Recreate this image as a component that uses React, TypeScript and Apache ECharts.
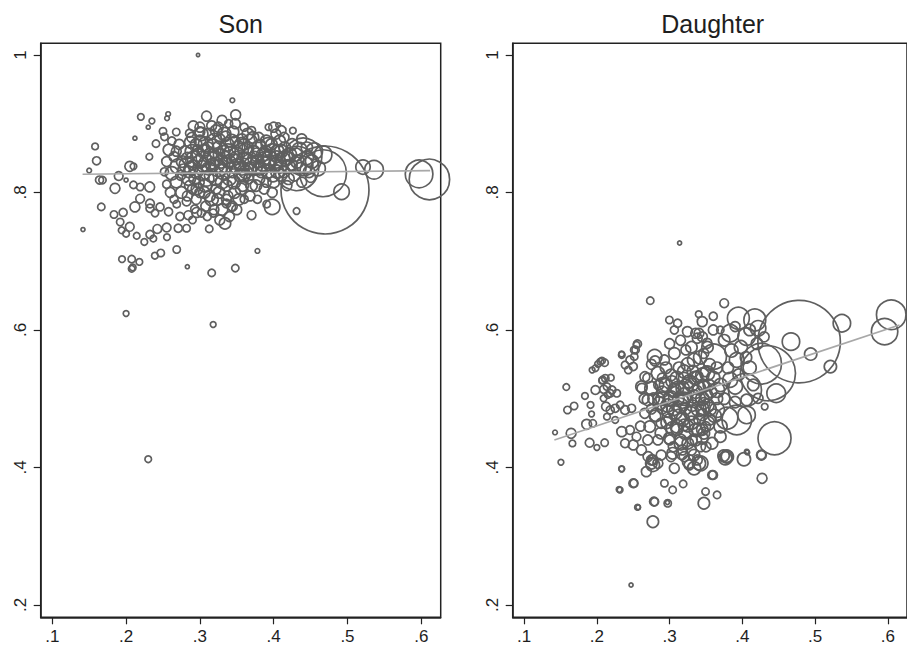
import React, { useEffect, useRef } from "react";
import * as echarts from "echarts";

// [share, outcome, weight]
const sonPoints: number[][] = [
  [0.2975, 1.0, 1], [0.344, 0.934, 2], [0.22, 0.91, 4], [0.235, 0.904, 3], [0.23, 0.895, 1.5],
  [0.257, 0.914, 2], [0.2555, 0.908, 2], [0.309, 0.911, 9], [0.3485, 0.913, 9], [0.348, 0.9, 9],
  [0.406, 0.898, 2], [0.291, 0.897, 9], [0.268, 0.888, 5], [0.25, 0.889, 5], [0.252, 0.881, 5],
  [0.212, 0.879, 1.5], [0.2405, 0.871, 5], [0.2315, 0.852, 4], [0.205, 0.838, 9], [0.21, 0.838, 4],
  [0.19, 0.824, 7], [0.164, 0.818, 6], [0.168, 0.818, 5], [0.185, 0.806, 9], [0.2, 0.818, 1.5],
  [0.21, 0.811, 5], [0.219, 0.808, 5], [0.232, 0.808, 9], [0.219, 0.791, 7], [0.212, 0.779, 9],
  [0.196, 0.771, 6], [0.1836, 0.768, 5], [0.192, 0.757, 5], [0.194, 0.745, 4], [0.2, 0.74, 4],
  [0.205, 0.75, 7], [0.2144, 0.737, 4], [0.2247, 0.728, 4], [0.2324, 0.739, 6], [0.2369, 0.733, 4],
  [0.2423, 0.747, 7], [0.255, 0.749, 7], [0.2554, 0.735, 4], [0.2707, 0.748, 6], [0.282, 0.748, 5],
  [0.273, 0.765, 6], [0.2843, 0.767, 7], [0.2957, 0.771, 9], [0.3127, 0.747, 5], [0.2324, 0.784, 7],
  [0.2324, 0.777, 6], [0.2392, 0.77, 5], [0.246, 0.779, 6], [0.2576, 0.772, 6], [0.2686, 0.783, 5],
  [0.282, 0.787, 7], [0.318, 0.77, 6], [0.327, 0.76, 9], [0.334, 0.755, 12], [0.336, 0.784, 7],
  [0.343, 0.779, 6], [0.37, 0.767, 7], [0.3905, 0.783, 5], [0.431, 0.773, 4], [0.398, 0.779, 22],
  [0.1416, 0.746, 1.5], [0.1664, 0.779, 5], [0.158, 0.867, 4], [0.16, 0.846, 6], [0.15, 0.832, 2],
  [0.1945, 0.703, 4], [0.2076, 0.703, 5], [0.218, 0.699, 4], [0.209, 0.691, 4], [0.2076, 0.689, 4],
  [0.239, 0.708, 4], [0.247, 0.712, 5], [0.2686, 0.717, 5], [0.316, 0.683, 5], [0.348, 0.69, 5],
  [0.378, 0.715, 2], [0.283, 0.692, 1.5], [0.2, 0.624, 3], [0.318, 0.608, 3], [0.23, 0.412, 4],
  // large units
  [0.4695, 0.8036, 711], [0.431, 0.835, 180], [0.467, 0.828, 200], [0.44, 0.852, 128],
  [0.467, 0.855, 28], [0.492, 0.801, 22], [0.521, 0.837, 19], [0.536, 0.833, 32],
  [0.597, 0.827, 70], [0.611, 0.819, 150],
  // dense cluster
  [0.255, 0.845, 9], [0.258, 0.862, 12], [0.262, 0.828, 16], [0.265, 0.852, 9], [0.268, 0.815, 12],
  [0.27, 0.838, 20], [0.252, 0.83, 6], [0.26, 0.8, 9], [0.265, 0.79, 6], [0.255, 0.812, 6],
  [0.272, 0.87, 9], [0.262, 0.875, 6], [0.275, 0.8, 12], [0.274, 0.825, 9],
  [0.28, 0.858, 16], [0.282, 0.84, 20], [0.285, 0.82, 16], [0.287, 0.873, 12], [0.29, 0.805, 9],
  [0.292, 0.848, 25], [0.295, 0.83, 16], [0.297, 0.862, 9], [0.283, 0.795, 9], [0.289, 0.88, 9],
  [0.298, 0.815, 12], [0.3, 0.845, 16], [0.278, 0.833, 12], [0.295, 0.79, 9], [0.3, 0.875, 12],
  [0.293, 0.776, 6], [0.286, 0.886, 6],
  [0.303, 0.828, 20], [0.305, 0.86, 16], [0.307, 0.81, 16], [0.31, 0.842, 25], [0.312, 0.885, 12],
  [0.313, 0.795, 12], [0.315, 0.825, 16], [0.318, 0.868, 16], [0.32, 0.85, 20], [0.322, 0.805, 9],
  [0.325, 0.835, 25], [0.327, 0.878, 9], [0.33, 0.815, 16], [0.332, 0.86, 12], [0.308, 0.78, 9],
  [0.316, 0.897, 9], [0.324, 0.79, 12], [0.329, 0.845, 16], [0.302, 0.77, 6], [0.319, 0.775, 9],
  [0.335, 0.84, 20], [0.337, 0.87, 16], [0.34, 0.82, 16], [0.342, 0.855, 25], [0.345, 0.888, 12],
  [0.347, 0.8, 12], [0.35, 0.838, 20], [0.352, 0.865, 16], [0.355, 0.825, 16], [0.357, 0.878, 9],
  [0.358, 0.81, 12], [0.338, 0.795, 9], [0.344, 0.78, 9], [0.353, 0.79, 12], [0.36, 0.848, 20],
  [0.348, 0.875, 9], [0.339, 0.9, 6],
  [0.362, 0.83, 16], [0.365, 0.865, 12], [0.367, 0.845, 20], [0.37, 0.81, 12], [0.372, 0.88, 12],
  [0.375, 0.835, 16], [0.377, 0.855, 16], [0.38, 0.82, 12], [0.382, 0.87, 9], [0.385, 0.842, 20],
  [0.387, 0.805, 9], [0.389, 0.86, 12], [0.368, 0.795, 9], [0.378, 0.79, 6], [0.37, 0.89, 6],
  [0.392, 0.83, 16], [0.395, 0.85, 20], [0.397, 0.87, 12], [0.4, 0.815, 12], [0.402, 0.84, 16],
  [0.405, 0.86, 16], [0.408, 0.875, 12], [0.41, 0.825, 12], [0.412, 0.848, 20], [0.415, 0.865, 12],
  [0.418, 0.81, 9], [0.42, 0.838, 16], [0.403, 0.885, 9], [0.398, 0.8, 9], [0.414, 0.88, 9],
  [0.393, 0.895, 4],
  [0.422, 0.855, 16], [0.425, 0.87, 12], [0.428, 0.825, 12], [0.432, 0.845, 16], [0.435, 0.862, 20],
  [0.438, 0.815, 9], [0.442, 0.84, 25], [0.445, 0.85, 16], [0.448, 0.83, 12], [0.452, 0.845, 16],
  [0.455, 0.86, 25], [0.46, 0.835, 20], [0.438, 0.878, 9], [0.426, 0.89, 4],
  [0.3, 0.8, 9], [0.31, 0.765, 6], [0.29, 0.76, 5], [0.34, 0.765, 9], [0.36, 0.79, 6],
  [0.35, 0.775, 9], [0.33, 0.775, 12],
  [0.283, 0.85, 12], [0.288, 0.835, 16], [0.293, 0.82, 12], [0.298, 0.855, 16], [0.304, 0.838, 12],
  [0.309, 0.82, 20], [0.311, 0.865, 12], [0.317, 0.84, 16], [0.321, 0.82, 16], [0.326, 0.855, 12],
  [0.331, 0.83, 20], [0.336, 0.81, 12], [0.339, 0.845, 16], [0.344, 0.83, 12], [0.349, 0.85, 16],
  [0.354, 0.84, 12], [0.359, 0.825, 16], [0.363, 0.85, 12], [0.368, 0.835, 16], [0.373, 0.86, 12],
  [0.378, 0.845, 16], [0.383, 0.83, 12], [0.388, 0.85, 16], [0.394, 0.84, 12], [0.399, 0.825, 16],
  [0.404, 0.852, 12], [0.409, 0.838, 16], [0.414, 0.83, 12], [0.419, 0.85, 16], [0.424, 0.84, 12],
  [0.43, 0.855, 16], [0.436, 0.835, 12], [0.306, 0.8, 12], [0.316, 0.79, 16], [0.326, 0.8, 12],
  [0.336, 0.79, 9], [0.346, 0.815, 16], [0.356, 0.805, 12], [0.366, 0.82, 9], [0.376, 0.81, 12],
  [0.296, 0.805, 12], [0.286, 0.81, 9], [0.276, 0.845, 12], [0.268, 0.86, 9], [0.3, 0.888, 9],
  [0.322, 0.89, 12], [0.335, 0.882, 9], [0.36, 0.87, 12], [0.38, 0.88, 9], [0.39, 0.875, 12],
  [0.41, 0.89, 9], [0.33, 0.905, 9], [0.36, 0.895, 6], [0.39, 0.815, 9], [0.42, 0.82, 12],
  [0.445, 0.865, 12], [0.45, 0.822, 9],
  [0.302, 0.885, 16], [0.308, 0.87, 20], [0.314, 0.855, 16], [0.32, 0.875, 20], [0.326, 0.865, 16],
  [0.333, 0.885, 16], [0.338, 0.86, 20], [0.343, 0.875, 16], [0.35, 0.855, 20], [0.356, 0.87, 16],
  [0.362, 0.86, 20], [0.368, 0.875, 16], [0.374, 0.85, 16], [0.38, 0.865, 20], [0.386, 0.855, 16],
  [0.392, 0.87, 16], [0.398, 0.86, 20], [0.404, 0.845, 16], [0.41, 0.86, 16], [0.416, 0.85, 20],
  [0.305, 0.85, 20], [0.312, 0.835, 16], [0.323, 0.84, 20], [0.334, 0.85, 16], [0.346, 0.845, 20],
  [0.357, 0.835, 16], [0.37, 0.84, 20], [0.381, 0.835, 16], [0.393, 0.845, 16], [0.405, 0.83, 16],
  [0.295, 0.87, 12], [0.289, 0.86, 16], [0.3, 0.895, 9], [0.325, 0.895, 9], [0.365, 0.885, 12],
  [0.4, 0.895, 9], [0.285, 0.83, 12], [0.29, 0.84, 9],
];

const daughterPoints: number[][] = [
  [0.3137, 0.7265, 1.5], [0.247, 0.229, 1.5], [0.2734, 0.6426, 5], [0.375, 0.639, 7], [0.34, 0.623, 4],
  [0.277, 0.321, 12], [0.2568, 0.342, 2], [0.2794, 0.35, 6], [0.297, 0.349, 1.5], [0.2306, 0.368, 3],
  [0.251, 0.377, 6], [0.234, 0.398, 3], [0.1506, 0.4076, 3], [0.1425, 0.451, 2], [0.158, 0.517, 4],
  [0.1596, 0.4836, 5], [0.1687, 0.4894, 5], [0.1646, 0.4497, 9], [0.1664, 0.435, 4], [0.186, 0.4627, 9],
  [0.19, 0.436, 7], [0.2, 0.429, 3], [0.2107, 0.436, 5], [0.1836, 0.504, 4], [0.1913, 0.4909, 4],
  [0.1927, 0.4778, 3], [0.198, 0.5127, 7], [0.2094, 0.5137, 6], [0.2152, 0.5055, 4], [0.208, 0.5273, 5],
  [0.2192, 0.5306, 4], [0.2016, 0.5505, 4], [0.207, 0.5553, 4], [0.2107, 0.5524, 5], [0.1935, 0.5418, 3],
  [0.198, 0.5443, 4], [0.234, 0.5651, 3], [0.2513, 0.5709, 5], [0.2558, 0.5796, 6],
  [0.2252, 0.4691, 4], [0.1944, 0.4642, 5], [0.2048, 0.5539, 4], [0.2116, 0.5297, 5], [0.2139, 0.5176, 5],
  [0.2206, 0.5127, 6], [0.2274, 0.5079, 5], [0.2093, 0.5006, 4], [0.2184, 0.5079, 5], [0.2071, 0.5263, 4],
  [0.2125, 0.4885, 7], [0.2184, 0.4836, 6], [0.2252, 0.486, 6], [0.232, 0.4909, 5], [0.2387, 0.4836, 7],
  [0.2477, 0.486, 6], [0.2139, 0.4739, 4], [0.2342, 0.5636, 4], [0.2387, 0.5491, 5], [0.2455, 0.5564, 6],
  [0.2514, 0.5612, 5], [0.2545, 0.5782, 4], [0.2532, 0.5709, 5], [0.2432, 0.5418, 5], [0.25, 0.5467, 6],
  [0.2342, 0.4521, 9], [0.2387, 0.4352, 7], [0.25, 0.4327, 9], [0.2455, 0.4545, 7], [0.2545, 0.4448, 7],
  [0.2613, 0.4255, 9], [0.2703, 0.4158, 9], [0.2748, 0.406, 12], [0.268, 0.3939, 9], [0.277, 0.4109, 9],
  [0.2342, 0.3978, 3], [0.25, 0.377, 7], [0.2319, 0.3673, 3], [0.2559, 0.342, 3], [0.2784, 0.3503, 7],
  [0.2974, 0.3479, 5], [0.2929, 0.377, 5], [0.3042, 0.3673, 5], [0.3186, 0.376, 5],
  // dense cluster
  [0.2997, 0.6145, 5], [0.311, 0.6097, 6], [0.3065, 0.6, 6], [0.3245, 0.5976, 9], [0.3358, 0.5952, 9],
  [0.338, 0.588, 9], [0.2794, 0.5612, 19], [0.2929, 0.5564, 9], [0.3065, 0.566, 12], [0.3223, 0.5709, 9],
  [0.347, 0.566, 9], [0.3336, 0.5564, 16],
  [0.266, 0.532, 9], [0.2839, 0.537, 16], [0.302, 0.5345, 12], [0.32, 0.5394, 16], [0.338, 0.532, 12],
  [0.3494, 0.5394, 9],
  [0.2613, 0.5176, 12], [0.2749, 0.5152, 16], [0.2907, 0.52, 20], [0.3065, 0.5127, 16], [0.3223, 0.5176, 20],
  [0.3403, 0.5152, 16], [0.3539, 0.52, 12],
  [0.2703, 0.4982, 12], [0.2861, 0.4933, 16], [0.302, 0.5006, 20], [0.3178, 0.4958, 16], [0.3336, 0.503, 16],
  [0.3471, 0.4933, 12],
  [0.2658, 0.4788, 9], [0.2816, 0.4764, 16], [0.2974, 0.4812, 12], [0.3132, 0.474, 20], [0.329, 0.4788, 16],
  [0.3448, 0.4764, 12],
  [0.2726, 0.4594, 12], [0.2884, 0.4642, 9], [0.3042, 0.457, 16], [0.32, 0.4618, 12], [0.3358, 0.4545, 16],
  [0.3494, 0.4594, 9],
  [0.2839, 0.44, 9], [0.2997, 0.4424, 12], [0.3155, 0.435, 16], [0.3313, 0.44, 9], [0.3449, 0.4424, 12],
  [0.2884, 0.418, 9], [0.3042, 0.4206, 12], [0.32, 0.4158, 9], [0.3336, 0.418, 12], [0.3404, 0.406, 16],
  [0.3268, 0.4036, 9], [0.2839, 0.406, 9], [0.3065, 0.3988, 9],
  [0.31, 0.53, 16], [0.295, 0.545, 12], [0.325, 0.55, 16], [0.315, 0.49, 20], [0.33, 0.465, 16],
  [0.3, 0.47, 12], [0.285, 0.5, 12], [0.345, 0.5, 16], [0.355, 0.55, 12], [0.36, 0.53, 16],
  [0.365, 0.5, 12], [0.37, 0.46, 16], [0.355, 0.47, 12], [0.34, 0.485, 20], [0.32, 0.5, 16],
  [0.305, 0.51, 12], [0.29, 0.53, 9], [0.275, 0.55, 9], [0.265, 0.5, 9], [0.28, 0.475, 12],
  [0.3, 0.44, 9], [0.325, 0.435, 12], [0.35, 0.43, 9], [0.26, 0.46, 9], [0.27, 0.44, 9],
  [0.29, 0.51, 12], [0.297, 0.49, 16], [0.303, 0.525, 12], [0.308, 0.48, 16], [0.312, 0.5, 12],
  [0.318, 0.515, 16], [0.322, 0.485, 12], [0.327, 0.525, 16], [0.331, 0.49, 12], [0.336, 0.51, 16],
  [0.341, 0.47, 12], [0.346, 0.52, 12], [0.352, 0.49, 16], [0.357, 0.51, 12], [0.362, 0.475, 16],
  [0.296, 0.465, 12], [0.31, 0.455, 12], [0.322, 0.45, 16], [0.336, 0.44, 12], [0.345, 0.455, 12],
  [0.313, 0.545, 12], [0.332, 0.54, 12], [0.342, 0.56, 16], [0.352, 0.575, 12], [0.365, 0.545, 12],
  [0.37, 0.52, 16], [0.375, 0.5, 12], [0.38, 0.545, 12], [0.385, 0.57, 16], [0.39, 0.495, 12],
  [0.395, 0.535, 12], [0.41, 0.545, 16], [0.415, 0.52, 12], [0.398, 0.575, 16], [0.405, 0.56, 12],
  [0.285, 0.52, 9], [0.278, 0.5, 12], [0.29, 0.485, 9], [0.305, 0.43, 9], [0.317, 0.42, 12],
  [0.33, 0.425, 9], [0.288, 0.45, 12], [0.275, 0.485, 9], [0.262, 0.515, 9], [0.27, 0.53, 9],
  [0.28, 0.555, 9], [0.3, 0.58, 9], [0.315, 0.585, 9], [0.33, 0.575, 12], [0.345, 0.59, 9],
  [0.36, 0.6, 9], [0.375, 0.585, 12], [0.39, 0.605, 9], [0.41, 0.6, 12], [0.42, 0.58, 12],
  [0.43, 0.59, 9], [0.36, 0.62, 6],
  [0.3, 0.5, 16], [0.31, 0.515, 16], [0.32, 0.505, 20], [0.33, 0.52, 16], [0.34, 0.5, 16],
  [0.305, 0.485, 16], [0.318, 0.47, 16], [0.33, 0.48, 20], [0.345, 0.485, 16], [0.35, 0.505, 16],
  [0.295, 0.52, 16], [0.31, 0.46, 16], [0.325, 0.46, 12], [0.335, 0.53, 16], [0.32, 0.53, 12],
  [0.29, 0.5, 16], [0.345, 0.535, 16], [0.315, 0.44, 12], [0.34, 0.455, 16], [0.355, 0.485, 16],
  // right part
  [0.3945, 0.617, 44], [0.4171, 0.6145, 44], [0.3833, 0.5952, 28], [0.4058, 0.5903, 28], [0.4216, 0.6024, 22],
  [0.3697, 0.6, 5], [0.3516, 0.5806, 9], [0.3607, 0.5612, 59], [0.3923, 0.5564, 20], [0.4352, 0.537, 278],
  [0.426, 0.551, 150], [0.4668, 0.583, 28], [0.4939, 0.565, 14], [0.521, 0.5467, 14], [0.5368, 0.6097, 28],
  [0.478, 0.583, 625], [0.6046, 0.622, 80], [0.5955, 0.5976, 64],
  [0.4465, 0.5079, 32], [0.4036, 0.5127, 100], [0.39, 0.5176, 20], [0.3516, 0.537, 20], [0.3471, 0.5176, 12],
  [0.3652, 0.5127, 20], [0.3832, 0.5273, 20], [0.4058, 0.4982, 12], [0.4216, 0.5006, 9], [0.4307, 0.4885, 4],
  [0.3923, 0.4691, 80], [0.3787, 0.4715, 44], [0.4058, 0.4764, 28], [0.3652, 0.4836, 20], [0.3516, 0.4642, 20],
  [0.3697, 0.4448, 12], [0.3584, 0.4352, 12], [0.3426, 0.4303, 9], [0.4442, 0.4424, 100], [0.4022, 0.4119, 16],
  [0.3787, 0.4158, 16], [0.3742, 0.417, 12], [0.4262, 0.418, 9], [0.4271, 0.3842, 9], [0.3584, 0.389, 7],
  [0.406, 0.423, 2], [0.3426, 0.406, 20], [0.3471, 0.4497, 12], [0.3403, 0.5952, 9], [0.3448, 0.6121, 9],
  [0.3598, 0.3891, 7], [0.3494, 0.3649, 5], [0.3652, 0.36, 5], [0.3471, 0.3479, 12], [0.3336, 0.3988, 16],
  [0.3268, 0.4085, 16], [0.3381, 0.4109, 9], [0.3178, 0.4255, 9], [0.302, 0.4158, 9], [0.2771, 0.4037, 16],
  [0.2749, 0.4109, 9], [0.3765, 0.4134, 16], [0.3788, 0.4158, 12], [0.4068, 0.4216, 2], [0.4262, 0.4182, 7],
];

const sonFit: number[][] = [[0.141, 0.8265], [0.612, 0.8317]];
const daughterFit: number[][] = [[0.1416, 0.44], [0.616, 0.6073]];

const xTicks = [0.1, 0.2, 0.3, 0.4, 0.5, 0.6];
const yTicks = [0.2, 0.4, 0.6, 0.8, 1];
const panelTitles = ["Son", "Daughter"];

const X_MIN = 0.0843;
const X_MAX = 0.6263;
const Y_MIN = 0.182;
const Y_MAX = 1.017;

const fmt = (v: number) => String(Math.round(v * 10) / 10).replace(/^0/, "");
const FONT = "Liberation Sans, Arial, sans-serif";

export default function App() {
  const ref = useRef<HTMLDivElement>(null);
  useEffect(() => {
    if (!ref.current) return;
    const chart = echarts.init(ref.current, null, { renderer: "svg" });
    const grids = [
      { left: 40.7, top: 43.3, width: 400, height: 574 },
      { left: 512.7, top: 43.3, width: 400, height: 574 },
    ];
    const mkX = (i: number) => ({
      type: "value",
      gridIndex: i,
      min: X_MIN,
      max: X_MAX,
      splitLine: { show: false },
      axisLine: { show: true, lineStyle: { color: "#222", width: 1.5 } },
      axisTick: { show: true, length: 7, customValues: xTicks, lineStyle: { color: "#222", width: 1.2 } },
      axisLabel: {
        customValues: xTicks,
        formatter: fmt,
        fontSize: 17,
        fontFamily: FONT,
        color: "#1e1e1e",
        margin: 11,
      },
    });
    const mkY = (i: number) => ({
      type: "value",
      gridIndex: i,
      min: Y_MIN,
      max: Y_MAX,
      splitLine: { show: false },
      axisLine: { show: true, lineStyle: { color: "#222", width: 1.5 } },
      axisTick: { show: true, length: 7, customValues: yTicks, lineStyle: { color: "#222", width: 1.2 } },
      axisLabel: {
        customValues: yTicks,
        formatter: fmt,
        fontSize: 17,
        fontFamily: FONT,
        color: "#1e1e1e",
        rotate: 90,
        margin: 12,
      },
    });
    const scatter = (i: number, data: number[][]) => ({
      type: "scatter",
      xAxisIndex: i,
      yAxisIndex: i,
      data,
      symbol: "circle",
      symbolSize: (v: number[]) => 3.3 * Math.sqrt(v[2]),
      itemStyle: { color: "rgba(0,0,0,0)", borderColor: "#5f5f5f", borderWidth: 1.7, opacity: 1 },
      z: 2,
      silent: true,
    });
    const fit = (i: number, data: number[][]) => ({
      type: "line",
      xAxisIndex: i,
      yAxisIndex: i,
      data,
      symbol: "none",
      lineStyle: { color: "#a8a8a8", width: 1.7 },
      z: 3,
      silent: true,
    });
    chart.setOption({
      animation: false,
      grid: grids.map((g) => ({ ...g, show: true, borderColor: "#222", borderWidth: 1.5, backgroundColor: "#fff" })),
      xAxis: [mkX(0), mkX(1)],
      yAxis: [mkY(0), mkY(1)],
      series: [scatter(0, sonPoints), fit(0, sonFit), scatter(1, daughterPoints), fit(1, daughterFit)],
      graphic: panelTitles.map((t, i) => ({
        type: "text",
        x: grids[i].left + grids[i].width / 2,
        y: 24,
        style: {
          text: t,
          fontSize: 25,
          fontFamily: FONT,
          fill: "#1e1e1e",
          textAlign: "center",
          textVerticalAlign: "middle",
        },
      })),
    });
    return () => chart.dispose();
  }, []);
  return (
    <div
      ref={ref}
      style={{ position: "fixed", left: 0, top: 0, width: 907, height: 647, background: "#fff" }}
    />
  );
}
